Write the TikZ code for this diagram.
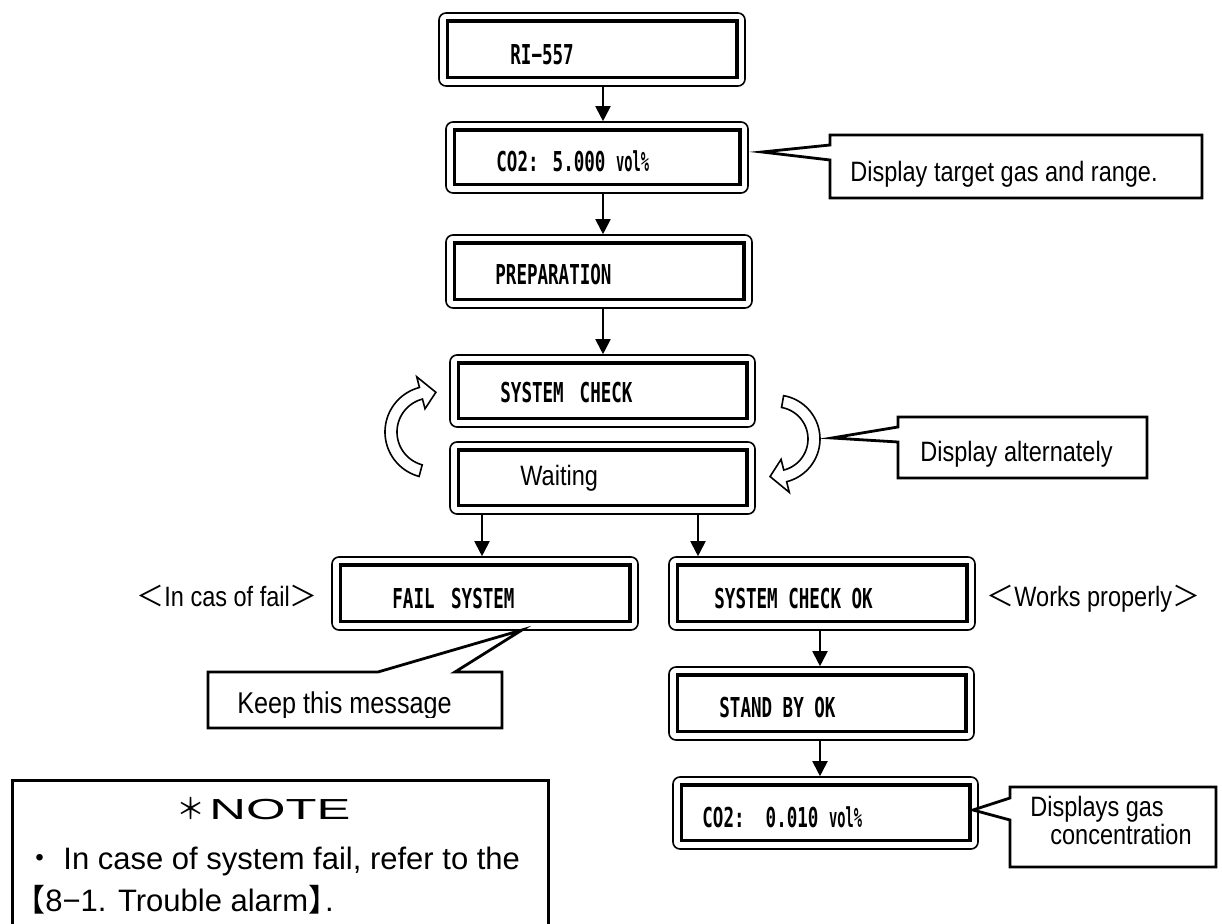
\documentclass[tikz,border=0pt]{standalone}
\usepackage{fontspec}
\usepackage{graphicx}
\setmainfont{Liberation Sans}[FakeStretch=0.84]
\newfontfamily\lcd{DejaVu Sans Mono Bold}[FakeStretch=0.64]
\newfontfamily\lcdn{DejaVu Sans Mono Bold}[FakeStretch=0.5]
\newfontfamily\cjk{Noto Sans CJK JP}
\newfontfamily\wide{Liberation Sans}
\usetikzlibrary{arrows.meta}
\tikzset{
 lcdbox/.style 2 args={draw, rounded corners=3.5pt, line width=0.8pt, inner sep=0pt,
   minimum width=#1*0.5pt, minimum height=#2*0.5pt},
 lcdin/.style={draw, line width=1.7pt},
 lcdtxt/.style={anchor=base west, inner sep=0pt, font=\lcd\fontsize{13.7pt}{16pt}\selectfont},
 proptxt/.style={anchor=base west, inner sep=0pt, font=\fontsize{14pt}{17pt}\selectfont},
 flow/.style={line width=1pt, -{Triangle[length=7.5pt,width=7.5pt]}},
 callout/.style={draw, fill=white, line width=1.4pt, line join=miter},
 hollow/.style={draw, fill=white, line width=0.8pt, line join=miter},
 notebox/.style={draw, line width=1.5pt},
 notetxt/.style={anchor=base west, inner sep=0pt, font=\wide\fontsize{15.5pt}{19pt}\selectfont},
}
\begin{document}
\begin{tikzpicture}[x=0.5pt,y=-0.5pt]
\useasboundingbox (0,0) rectangle (1222,924);

% display boxes
\node[lcdbox={306}{73}] (ri)    at (592,49.5)  {};
\node[lcdbox={302}{71}] (co2a)  at (597,157.5) {};
\node[lcdbox={306}{73}] (prep)  at (599,271.5) {};
\node[lcdbox={305}{72}] (sys)   at (602.5,391) {};
\node[lcdbox={305}{72}] (wait)  at (602.5,478) {};
\node[lcdbox={306}{73}] (fail)  at (485,593.5) {};
\node[lcdbox={306}{73}] (ok)    at (822,593.5) {};
\node[lcdbox={305}{73}] (stand) at (821.5,703.5) {};
\node[lcdbox={305}{72}] (co2b)  at (825.5,813) {};
\foreach \n in {ri,co2a,prep,sys,wait,fail,ok,stand,co2b}
  \draw[lcdin] ([shift={(9,9)}]\n.north west) rectangle ([shift={(-9,-9)}]\n.south east);

% box texts
\node[lcdtxt] (tri)    at (510,65)  {RI−557};
\node[lcdtxt] (tco2a)  at (496,172) {CO2: 5.000 {\lcdn vol\%}};
\node[lcdtxt] (tprep)  at (495,285) {PREPARATION};
\node[lcdtxt] (tsys)   at (500,403) {SYSTEM\kern2.7pt\ CHECK};
\node[proptxt] (twait) at (520,486) {Waiting};
\node[lcdtxt] (tfail)  at (392,609) {FAIL\kern3pt\ SYSTEM};
\node[lcdtxt] (tok)    at (714,609) {SYSTEM CHECK OK};
\node[lcdtxt] (tstand) at (719,718) {STAND BY OK};
\node[lcdtxt] (tco2b)  at (702,828) {CO2:\ \ 0.010 {\lcdn vol\%}};

% flow arrows
\coordinate (xa) at (603,0);
\coordinate (xf) at (482,0);
\coordinate (xo) at (698,0);
\coordinate (xs) at (820,0);
\draw[flow] (ri.south -| xa)   -- (co2a.north -| xa);
\draw[flow] (co2a.south -| xa) -- (prep.north -| xa);
\draw[flow] (prep.south -| xa) -- (sys.north -| xa);
\draw[flow] (wait.south -| xf) -- (fail.north -| xf);
\draw[flow] (wait.south -| xo) -- (ok.north -| xo);
\draw[flow] (ok.south -| xs)   -- (stand.north -| xs);
\draw[flow] (stand.south -| xs) -- (co2b.north -| xs);

% hollow curved arrows (display alternately)
\draw[hollow] plot[domain=105:255.5,samples=40] ({431+46*cos(\x)},{432+46*sin(\x)})
  -- ({431+57*cos(255.5)},{432+57*sin(255.5)})
  -- ({431+40*cos(277)},{432+40*sin(277)})
  -- ({431+24*cos(255.5)},{432+24*sin(255.5)})
  -- plot[domain=255.5:105,samples=40] ({431+34*cos(\x)},{432+34*sin(\x)}) -- cycle;
\draw[hollow] plot[domain=-80:76,samples=40] ({776+44*cos(\x)},{439+44*sin(\x)})
  -- ({776+55*cos(76)},{439+55*sin(76)})
  -- ({776+38*cos(99)},{439+38*sin(99)})
  -- ({776+21*cos(76)},{439+21*sin(76)})
  -- plot[domain=76:-80,samples=40] ({776+32*cos(\x)},{439+32*sin(\x)}) -- cycle;

% callouts
\draw[callout] (830,135) -- (1202,135) -- (1202,198) -- (830,198) -- (830,160) -- (762,152) -- (830,145) -- cycle;
\node[proptxt] (tc1) at (850,182) {Display target gas and range.};
\draw[callout] (898,417) -- (1147,417) -- (1147,478) -- (898,478) -- (898,442) -- (832,438) -- (898,427) -- cycle;
\node[proptxt] (tc2) at (920,462) {Display alternately};
\draw[callout] (208,672) -- (378,672) -- (522,630) -- (455,672) -- (502,672) -- (502,728) -- (208,728) -- cycle;
\begin{scope}
\clip (208,672) rectangle (502,718);
\node[proptxt, font=\fontsize{15pt}{18pt}\selectfont] (tc3) at (237,714) {Keep this message};
\end{scope}
\draw[callout] (1010,787) -- (1216,787) -- (1216,867) -- (1010,867) -- (1010,820) -- (973,810) -- (1010,798) -- cycle;
\node[proptxt, anchor=north west, align=left, font=\fontsize{14pt}{11.6pt}\selectfont] (tc4) at (1030,796)
  {Displays gas\\\hspace*{10pt}concentration};

% side labels
\node[proptxt] (lfail) at (136,607) {{\cjk ＜}In cas of fail{\cjk ＞}};
\node[proptxt] (lok)   at (986,607) {{\cjk ＜}Works properly{\cjk ＞}};

% note
\draw[notebox] (12,924) -- (12,781) -- (548,781) -- (548,924);
\node[anchor=base west, inner sep=0pt, font=\wide\fontsize{14.5pt}{18pt}\selectfont] (ntitle) at (176,820)
  {{\cjk ＊}\kern2pt\scalebox{1.75}[1]{NOTE}};
\node[notetxt] (n1) at (24,870) {{\cjk ・}\hspace{4pt}In case of system fail, refer to the};
\node[notetxt] (n2) at (14,912) {{\cjk 【}8−1. Trouble alarm{\cjk 】}\kern-7pt.};
\end{tikzpicture}
\end{document}
